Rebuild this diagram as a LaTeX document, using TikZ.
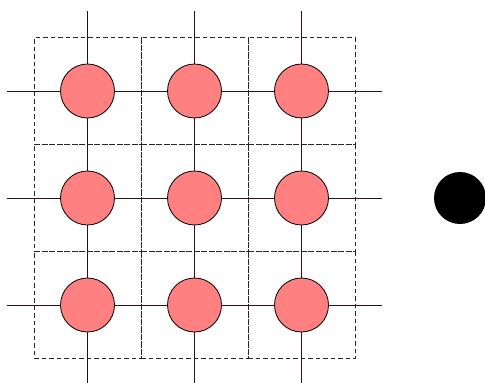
\documentclass[tikz,border=0pt]{standalone}
\begin{document}
\begin{tikzpicture}[x=1pt,y=-1pt,
  cell/.style={draw=black!85,dash pattern=on 4.5pt off 3pt,line width=1pt,minimum width=107pt,minimum height=107pt,inner sep=0pt},
  ball/.style={circle,draw=black,line width=0.8pt,fill={rgb,255:red,255;green,128;blue,128},minimum size=54pt,inner sep=0pt},
  wire/.style={draw={rgb,255:red,40;green,20;blue,20},line width=0.9pt},
  dot/.style={circle,fill=black,minimum size=52pt,inner sep=0pt}]
\useasboundingbox (0,0) rectangle (485,383);
\foreach \i/\x in {1/87.5,2/194.5,3/301.5}{
  \foreach \j/\y in {1/91,2/198,3/305}{
    \node[cell] (s\i\j) at (\x,\y) {};
  }
}
\foreach \j/\y in {1/91,2/198,3/305}{
  \coordinate (L\j) at (7,\y);
  \coordinate (R\j) at (382,\y);
}
\foreach \i/\x in {1/87.5,2/194.5,3/301.5}{
  \coordinate (T\i) at (\x,11);
  \coordinate (B\i) at (\x,383);
}
\foreach \i/\x in {1/87.5,2/194.5,3/301.5}{
  \foreach \j/\y in {1/91,2/198,3/305}{
    \node[ball] (c\i\j) at (\x,\y) {};
  }
}
\foreach \j in {1,2,3}{
  \draw[wire] (L\j) -- (c1\j) -- (c2\j) -- (c3\j) -- (R\j);
}
\foreach \i in {1,2,3}{
  \draw[wire] (T\i) -- (c\i1) -- (c\i2) -- (c\i3) -- (B\i);
}
\node[dot] (d) at (460,198) {};
\end{tikzpicture}
\end{document}
